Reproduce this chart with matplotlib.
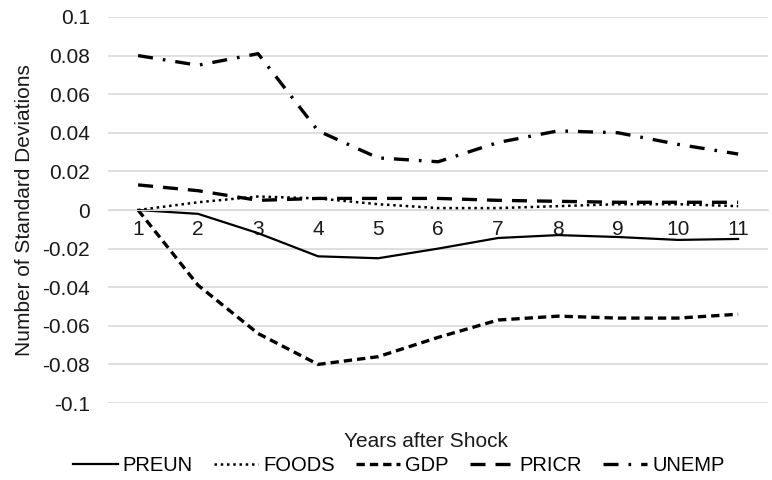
import matplotlib
matplotlib.use("Agg")
from matplotlib import pyplot as plt

plt.rcParams['font.family'] = ['Liberation Sans', 'DejaVu Sans']

years = list(range(1, 12))
preun = [0, -0.002, -0.012, -0.024, -0.025, -0.020, -0.0145, -0.013, -0.014, -0.0155, -0.015]
foods = [0, 0.004, 0.007, 0.006, 0.003, 0.001, 0.001, 0.002, 0.003, 0.003, 0.002]
gdp = [0, -0.039, -0.064, -0.080, -0.076, -0.066, -0.057, -0.055, -0.056, -0.056, -0.054]
pricr = [0.013, 0.010, 0.005, 0.006, 0.006, 0.006, 0.005, 0.0045, 0.004, 0.004, 0.004]
unemp = [0.080, 0.075, 0.081, 0.041, 0.027, 0.025, 0.035, 0.041, 0.040, 0.034, 0.029]
yticks = [-0.1, -0.08, -0.06, -0.04, -0.02, 0, 0.02, 0.04, 0.06, 0.08, 0.1]
ylabels = ['-0.1', '-0.08', '-0.06', '-0.04', '-0.02', '0', '0.02', '0.04', '0.06', '0.08', '0.1']

fig = plt.figure(figsize=(7.72, 4.8), dpi=100)
ax = fig.add_axes([0.14, 0.1604, 0.855, 0.8042])

ax.plot(years, preun, color='black', lw=1.6, ls='-', label='PREUN')
ax.plot(years, foods, color='black', lw=1.8, ls=(0, (1, 1.5)), label='FOODS')
ax.plot(years, gdp, color='black', lw=2.4, ls=(0, (2.5, 1.5)), label='GDP')
ax.plot(years, pricr, color='black', lw=2.4, ls=(0, (4.5, 3)), label='PRICR')
ax.plot(years, unemp, color='black', lw=2.4, ls=(0, (4.5, 3, 0.8, 3)), label='UNEMP')

ax.set_xlim(0.5, 11.5)
ax.set_ylim(-0.1, 0.1)
ax.set_yticks(yticks)
ax.set_yticklabels(ylabels)
ax.set_xticks(years)
ax.set_xticklabels([str(y) for y in years])
ax.grid(axis='y', color='#d9d9d9', lw=1.2)
ax.set_axisbelow(True)
for s in ['top', 'right', 'left']:
    ax.spines[s].set_visible(False)
ax.spines['bottom'].set_position(('data', 0))
ax.spines['bottom'].set_color('#d9d9d9')
ax.tick_params(axis='both', length=0, labelsize=15, colors='#1a1a1a')
ax.tick_params(axis='x', pad=7)
ax.tick_params(axis='y', pad=13)

ax.set_ylabel('Number of Standard Deviations', fontsize=15, color='#1a1a1a')
ax.yaxis.set_label_coords(-0.112, 0.5)
fig.text(0.552, 0.068, 'Years after Shock', ha='center', fontsize=15, color='#1a1a1a')
fig.legend(loc='lower center', bbox_to_anchor=(0.517, -0.028), ncol=5, frameon=False,
           fontsize=14.5, handlelength=2.2, columnspacing=1.05, handletextpad=0.25)

plt.savefig('out.png', dpi=100)
